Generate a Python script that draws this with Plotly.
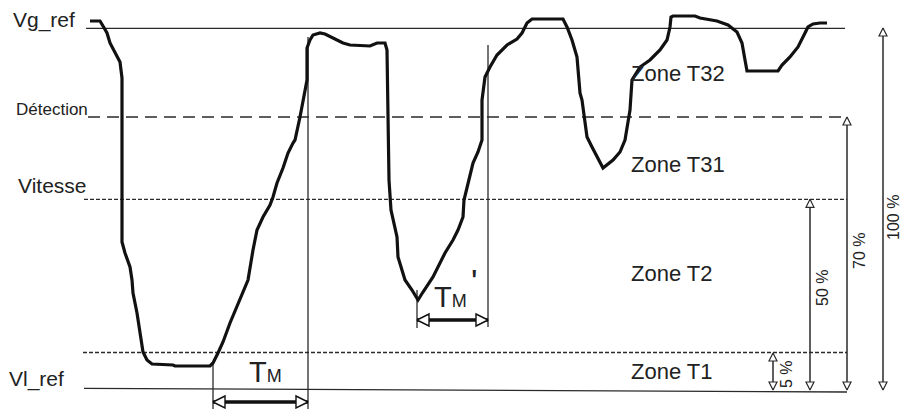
import plotly.graph_objects as go

# ---------------- data (x = time, y = level row, 0 at top) -------------
curve_t = [90, 100, 103, 107, 110, 115, 120, 122, 122, 125, 130, 132, 133, 137, 140, 143, 147, 152,
           173, 175, 210, 213, 218, 223, 230, 237, 243, 248, 253, 257, 263, 270, 273, 277, 283, 288,
           293, 295, 300, 303, 305, 307, 307, 310, 313, 320, 325, 333, 343, 350, 370, 377, 385, 387,
           388, 389, 391, 397, 398, 402, 405, 412, 418, 423, 433, 445, 453, 458, 463, 464, 467, 470,
           473, 478, 482, 482, 485, 490, 497, 507, 517, 522, 527, 532, 563, 567, 572, 577, 578, 580,
           582, 584, 587, 592, 597, 603, 613, 620, 625, 628, 630, 632, 640, 650, 660, 667, 670, 671,
           673, 695, 700, 717, 728, 737, 742, 745, 747, 778, 782, 790, 798, 805, 808, 813, 820, 827]
curve_v = [21, 21, 26, 33, 43, 52, 62, 78, 242, 253, 267, 280, 293, 313, 333, 352, 360, 364,
           365, 366, 366, 363, 353, 342, 323, 307, 292, 280, 250, 230, 217, 205, 197, 183, 168, 153,
           143, 140, 117, 100, 90, 80, 48, 40, 35, 33, 34, 38, 43, 45, 46, 43, 43, 50,
           133, 180, 210, 237, 257, 270, 280, 290, 300, 292, 277, 253, 240, 230, 217, 200, 187, 173,
           163, 152, 140, 100, 77, 67, 55, 45, 39, 33, 23, 19, 19, 27, 40, 57, 70, 93,
           100, 117, 137, 147, 157, 168, 160, 152, 140, 120, 110, 80, 67, 60, 50, 40, 27, 17,
           16, 16, 18, 21, 25, 32, 43, 60, 71, 71, 65, 57, 47, 33, 27, 24, 23, 23]

# reference levels
level_names = ["Vg_ref", "Détection", "Vitesse", "Seuil T1", "Vl_ref"]
level_start = [86, 88, 84, 83, 84]
level_end = [845, 845, 847, 847, 847]
level_y0 = [28.3, 117, 199.3, 352.5, 388.3]
level_y1 = [28.3, 117, 199.3, 352.5, 392]
level_dash = ["solid", "12px,7px", "4px,2px", "4px,2px", "solid"]

# percentage dimension arrows (right side)
pct_labels = ["5 %", "50 %", "70 %", "100 %"]
pct_x = [773, 810, 847, 883]
pct_top = [353, 199.3, 117, 28]
pct_bottom = [390, 390, 390, 390]

# TM time markers
tm_labels = ["TM", "TM'"]
tm_start = [213, 417]
tm_end = [308, 488]
tm_y = [402, 320]
tick_x = [213, 308, 417, 488]
tick_top = [363, 37, 290, 45]
tick_bottom = [409, 409, 328, 327]

zone_labels = ["Zone T32", "Zone T31", "Zone T2", "Zone T1"]

# ---------------- figure -------------
LINE = "#2a2a2a"
TXT = "#222222"
fig = go.Figure()

for i in range(len(level_names)):
    fig.add_trace(go.Scatter(x=[level_start[i], level_end[i]], y=[level_y0[i], level_y1[i]],
                             mode="lines", line=dict(color=LINE, width=1.3, dash=level_dash[i]),
                             hoverinfo="skip", showlegend=False))

for i in range(len(tick_x)):
    fig.add_trace(go.Scatter(x=[tick_x[i], tick_x[i]], y=[tick_top[i], tick_bottom[i]],
                             mode="lines", line=dict(color=LINE, width=1.3),
                             hoverinfo="skip", showlegend=False))

fig.add_trace(go.Scatter(x=curve_t, y=curve_v, mode="lines",
                         line=dict(color="#111111", width=3.2, shape="linear"),
                         hoverinfo="skip", showlegend=False))

# vertical dimension arrows
for i in range(len(pct_x)):
    fig.add_trace(go.Scatter(x=[pct_x[i], pct_x[i]], y=[pct_top[i], pct_bottom[i]],
                             mode="lines", line=dict(color=LINE, width=1.5),
                             hoverinfo="skip", showlegend=False))
    fig.add_trace(go.Scatter(x=[pct_x[i], pct_x[i]], y=[pct_top[i], pct_bottom[i]],
                             mode="markers",
                             marker=dict(symbol=["arrow-up", "arrow-down"], size=8, color="white",
                                         line=dict(color=LINE, width=1.2)),
                             hoverinfo="skip", showlegend=False))

# horizontal TM arrows
for i in range(len(tm_start)):
    fig.add_trace(go.Scatter(x=[tm_start[i], tm_end[i]], y=[tm_y[i], tm_y[i]],
                             mode="lines", line=dict(color="#111111", width=3.5),
                             hoverinfo="skip", showlegend=False))
    fig.add_trace(go.Scatter(x=[tm_start[i], tm_end[i]], y=[tm_y[i], tm_y[i]],
                             mode="markers",
                             marker=dict(symbol=["arrow-left", "arrow-right"], size=12, color="white",
                                         line=dict(color="#111111", width=1.4)),
                             hoverinfo="skip", showlegend=False))

ann = []
FONT = "Liberation Sans, Arial, sans-serif"


def txt(x, y, s, size, xanchor="left", angle=0):
    ann.append(dict(x=x, y=y, text=s, showarrow=False, xanchor=xanchor, yanchor="middle",
                    textangle=angle, font=dict(family=FONT, size=size, color=TXT)))


txt(11, 19.5, level_names[0], 21)
txt(14, 109, level_names[1], 17)
txt(16, 185.5, level_names[2], 21)
txt(7, 379, level_names[4], 21)

zone_y = [73.5, 164.5, 273, 371.5]
for s, y in zip(zone_labels, zone_y):
    txt(629, y, s, 22)

pct_text_x = [786, 822, 859, 893]
pct_text_y = [374, 288, 251, 218]
for s, x, y in zip(pct_labels, pct_text_x, pct_text_y):
    txt(x, y, s, 16, xanchor="center", angle=-90)

tm_text_x = [247, 432]
tm_text_y = [372, 297]
for s, x, y in zip(tm_labels, tm_text_x, tm_text_y):
    txt(x, y, "T<span style='font-size:18px'>M</span>", 29)
txt(474, 281, "'", 34, xanchor="center")

fig.update_layout(
    width=904, height=409, autosize=False,
    margin=dict(l=0, r=0, t=0, b=0, pad=0),
    paper_bgcolor="white", plot_bgcolor="white",
    xaxis=dict(range=[0, 904], visible=False, fixedrange=True),
    yaxis=dict(range=[409, 0], visible=False, fixedrange=True),
    annotations=ann,
    showlegend=False,
)

fig.write_html("out.html", config={"displayModeBar": False, "staticPlot": True},
               post_script="document.body.style.margin='0';document.body.style.overflow='hidden';")
